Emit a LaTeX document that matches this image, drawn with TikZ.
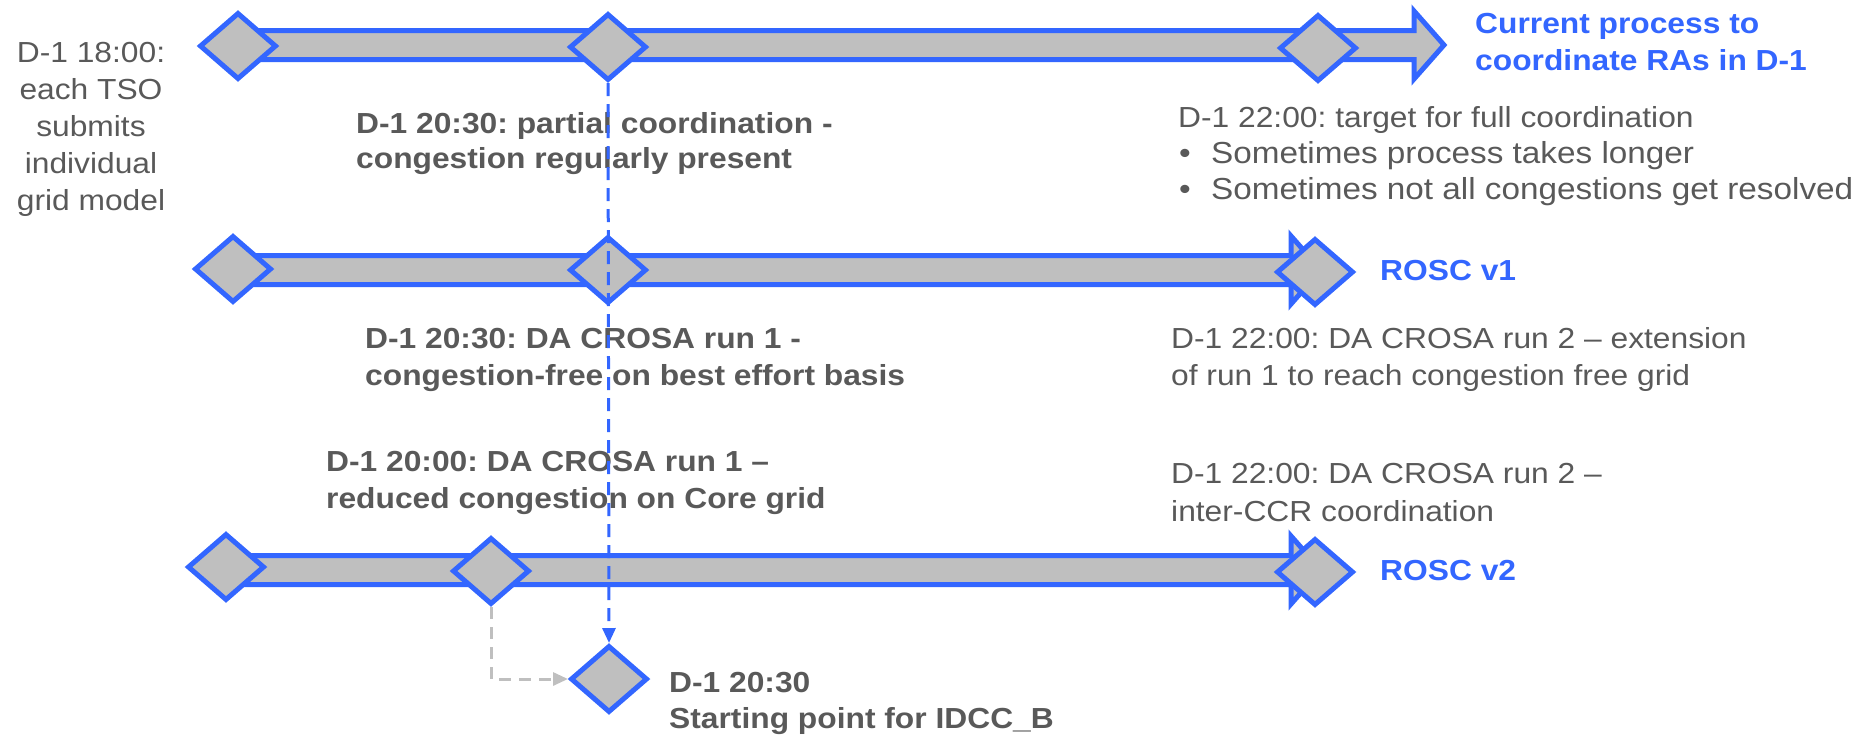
\documentclass[tikz,border=0pt]{standalone}
\usepackage{fontspec}
\setmainfont{Liberation Sans}[FakeStretch=1.095]
\usetikzlibrary{shapes.geometric,arrows.meta}
\definecolor{cblue}{HTML}{3366FF}
\definecolor{cfill}{HTML}{BFBFBF}
\definecolor{ctext}{HTML}{595959}
\definecolor{clight}{HTML}{BFBFBF}
\frenchspacing
\begin{document}
\begin{tikzpicture}[x=1pt,y=-1pt,
  ms/.style={diamond,draw=cblue,fill=cfill,line width=5pt,minimum width=77pt,minimum height=67pt,inner sep=0pt},
  band/.style={draw=cblue,fill=cfill,line width=5pt},
  txt/.style={text=ctext,font=\fontsize{29}{37}\selectfont,anchor=base west,inner sep=0pt},
  btxt/.style={txt,font=\fontsize{29}{37}\selectfont\bfseries},
  bigtxt/.style={txt,font=\fontsize{30.4}{37}\selectfont},
  ttl/.style={btxt,text=cblue},
  conn/.style={cblue,line width=3pt,dash pattern=on 13pt off 8pt,-{Triangle[length=15pt,width=13pt]}},
  gconn/.style={clight,line width=3pt,dash pattern=on 12pt off 8pt,-{Triangle[length=15pt,width=13pt]}}
]
\useasboundingbox (0,0) rectangle (1873,734);
% bands
\draw[band] (240,30.5) -- (1414,30.5) -- (1414,11) -- (1444,45) -- (1414,79) -- (1414,59.5) -- (240,59.5) -- cycle;
\draw[band] (235,255.5) -- (1291,255.5) -- (1291,236) -- (1321,270) -- (1291,304) -- (1291,284.5) -- (235,284.5) -- cycle;
\draw[band] (228,555.5) -- (1291,555.5) -- (1291,536) -- (1321,570) -- (1291,604) -- (1291,584.5) -- (228,584.5) -- cycle;
% milestones
\node[ms] (d11) at (238,46) {};
\node[ms] (d12) at (608,47) {};
\node[ms] (d13) at (1318,48) {};
\node[ms] (d21) at (233,269) {};
\node[ms] (d22) at (608,270) {};
\node[ms] (d23) at (1315,272) {};
\node[ms] (d31) at (226,567) {};
\node[ms] (d32) at (491,571) {};
\node[ms] (d33) at (1315,572) {};
\node[ms] (d4) at (609,679) {};
% left text
\node[txt,anchor=base] (l1) at (91,62) {D-1 18:00:};
\node[txt,anchor=base] (l2) at (91,99) {each TSO};
\node[txt,anchor=base] (l3) at (91,136) {submits};
\node[txt,anchor=base] (l4) at (91,173) {individual};
\node[txt,anchor=base] (l5) at (91,210) {grid model};
% row 1
\node[btxt] (a1) at (356,133) {D-1 20:30: partial coordination -};
\node[btxt] (a2) at (356,168) {congestion regularly present};
\node[ttl] (c1) at (1475,33) {Current process to};
\node[ttl] (c2) at (1475,70) {coordinate RAs in D-1};
\node[txt] (b1) at (1178,127) {D-1 22:00: target for full coordination};
\node[bigtxt] (b2d) at (1179,163.5) {•};
\node[bigtxt] (b2) at (1211,163.5) {Sometimes process takes longer};
\node[bigtxt] (b3d) at (1179,199.5) {•};
\node[bigtxt] (b3) at (1211,199.5) {Sometimes not all congestions get resolved};
% row 2
\node[btxt] (e1) at (365,348) {D-1 20:30: DA CROSA run 1 -};
\node[btxt] (e2) at (365,385) {congestion-free on best effort basis};
\node[ttl] (r1) at (1380,280) {ROSC v1};
\node[txt] (f1) at (1171,348) {D-1 22:00: DA CROSA run 2 – extension};
\node[txt] (f2) at (1171,385) {of run 1 to reach congestion free grid};
% row 3
\node[btxt] (g1) at (326,471) {D-1 20:00: DA CROSA run 1 –};
\node[btxt] (g2) at (326,508) {reduced congestion on Core grid};
\node[txt] (h1) at (1171,483) {D-1 22:00: DA CROSA run 2 –};
\node[txt] (h2) at (1171,521) {inter-CCR coordination};
\node[ttl] (r2) at (1380,580) {ROSC v2};
% bottom
\node[btxt] (k1) at (669,692) {D-1 20:30};
\node[btxt] (k2) at (669,728) {Starting point for IDCC\_B};
% connectors
\draw[gconn] (d32.south) |- (d4.west);
\draw[conn] (d12.south) -- (d4.north);
\end{tikzpicture}
\end{document}
